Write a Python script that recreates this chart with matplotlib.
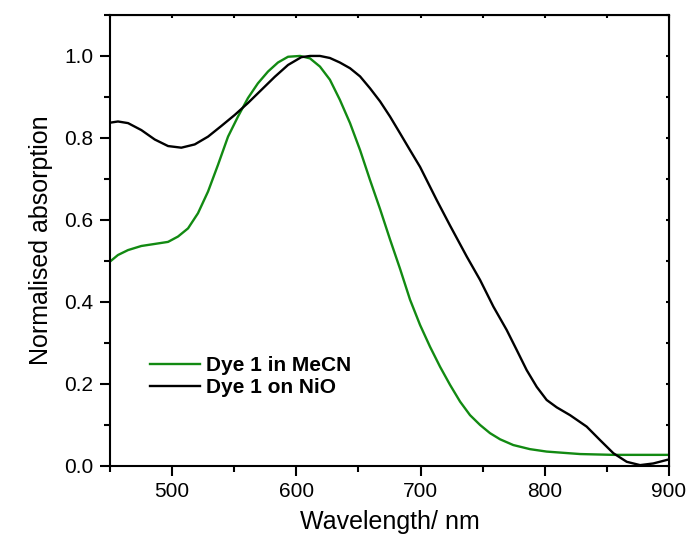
# Absorption spectra of dye 1, in solution and on NiO
import numpy as np
import matplotlib
matplotlib.use('Agg')
import matplotlib.pyplot as plt

plt.rcParams['font.family'] = ['Liberation Sans', 'DejaVu Sans']

# Dye 1 in MeCN
wlMeCN = [450, 456.4, 464.5, 475.2, 486, 496.7, 504.7, 512.8, 520.8, 528.9, 536.9, 545, 553,
          561, 569, 577.2, 585.2, 593.3, 603, 611, 619, 627, 635, 643.2, 651.3, 659.3, 667.4,
          675.4, 683.5, 691.5, 699.6, 707.6, 715.7, 723.7, 731.8, 739.8, 747.9, 755.9, 764,
          774.6, 788, 801.5, 828.4, 855.2, 900]
absMeCN = [0.498, 0.514, 0.526, 0.536, 0.541, 0.546, 0.559, 0.579, 0.616, 0.669, 0.734, 0.803,
           0.852, 0.897, 0.933, 0.962, 0.984, 0.998, 1.0, 0.994, 0.974, 0.942, 0.893, 0.836,
           0.770, 0.697, 0.626, 0.552, 0.480, 0.405, 0.343, 0.290, 0.241, 0.197, 0.156, 0.123,
           0.099, 0.079, 0.064, 0.050, 0.040, 0.034, 0.028, 0.026, 0.026]

# Dye 1 on NiO
wlNiO = [450, 456.4, 464.5, 475.2, 486, 496.7, 507.4, 518.2, 528.9, 539.6, 550.4, 561, 571.8,
         582.6, 593.3, 604, 611, 619, 627, 635, 643.2, 651.3, 659.3, 667.4, 675.4, 683.5, 691.5,
         699.6, 713, 723.7, 737.2, 747.9, 758.6, 769.3, 777.4, 785.4, 793.5, 801.5, 809.6,
         820.3, 833.7, 844.5, 855.2, 866, 876.7, 887.3, 900]
absNiO = [0.837, 0.840, 0.836, 0.819, 0.796, 0.780, 0.776, 0.784, 0.803, 0.829, 0.856, 0.885,
          0.917, 0.949, 0.978, 0.997, 1.0, 1.0, 0.995, 0.984, 0.970, 0.950, 0.921, 0.889, 0.852,
          0.811, 0.770, 0.729, 0.648, 0.586, 0.510, 0.453, 0.388, 0.331, 0.282, 0.233, 0.192,
          0.160, 0.142, 0.123, 0.095, 0.062, 0.030, 0.009, 0.001, 0.005, 0.015]

labels = ['Dye 1 in MeCN', 'Dye 1 on NiO']

fig = plt.figure(figsize=(6.89, 5.43), dpi=100)
ax = fig.add_axes([0.1597, 0.1427, 0.8113, 0.8297])

ax.plot(wlMeCN, absMeCN, color='#128a12', lw=1.7, label=labels[0])
ax.plot(wlNiO, absNiO, color='black', lw=1.7, label=labels[1])

ax.set_xlim(450, 900)
ax.set_ylim(0, 1.1)
ax.set_xticks([500, 600, 700, 800, 900])
ax.set_xticks(np.arange(450, 901, 50), minor=True)
ax.set_yticks([0.0, 0.2, 0.4, 0.6, 0.8, 1.0])
ax.set_yticks(np.arange(0, 1.11, 0.1), minor=True)
ax.set_yticklabels(['0.0', '0.2', '0.4', '0.6', '0.8', '1.0'])

for s in ax.spines.values():
    s.set_linewidth(1.5)
ax.tick_params(which='major', direction='out', length=7, width=1.5, labelsize=15, pad=5)
ax.tick_params(which='minor', direction='out', length=4, width=1.5)

# tiny inward ticks on the top and right frame
top = ax.secondary_xaxis('top')
top.set_xticks(np.arange(450, 901, 50))
top.tick_params(direction='in', length=2, width=1.5, labeltop=False)
right = ax.secondary_yaxis('right')
right.set_yticks(np.arange(0, 1.11, 0.1))
right.tick_params(direction='in', length=2, width=1.5, labelright=False)

ax.set_xlabel('Wavelength/ nm', fontsize=18, labelpad=6)
ax.set_ylabel('Normalised absorption', fontsize=18, labelpad=8)

leg = ax.legend(loc='upper left', bbox_to_anchor=(0.057, 0.262), frameon=False,
                prop={'weight': 'bold', 'size': 15}, handlelength=2.4, handletextpad=0.3,
                labelspacing=0.15, borderaxespad=0)

fig.savefig('out.png', dpi=100)
